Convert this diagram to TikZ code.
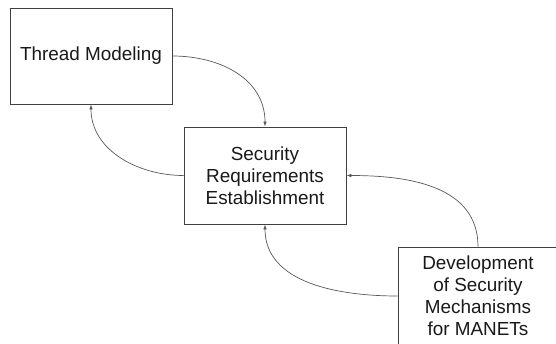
\documentclass[tikz,border=0pt]{standalone}
\usepackage{fontspec}
\setmainfont{Liberation Sans}
\usetikzlibrary{arrows.meta}
\begin{document}
\begin{tikzpicture}[x=1pt,y=-1pt,
  stagebox/.style={draw=black!75,line width=0.8pt,fill=white,align=center,
    font=\fontsize{18.9}{22}\selectfont,text=black!90,inner sep=0pt},
  flow/.style={draw=black!65,line width=0.7pt,-{Latex[length=5pt,width=3.6pt]}}]
  \useasboundingbox (0,0) rectangle (556,343);
  \fill[white] (0,0) rectangle (556,343);
  \node[stagebox,minimum width=162,minimum height=96] (tm) at (91,56) {Thread Modeling};
  \node[stagebox,minimum width=162,minimum height=97] (sr) at (265,175.5)
    {Security\\Requirements\\Establishment};
  \node[stagebox,minimum width=160,minimum height=98] (dev) at (478,296)
    {Development\\of Security\\Mechanisms\\for MANETs};
  \draw[flow] (tm.east) to[out=0,in=90,looseness=1.05] (sr.north);
  \draw[flow] (sr.west) to[out=180,in=-90,looseness=1.0] (tm.south);
  \draw[flow] (dev.north) to[out=90,in=0,looseness=1.05] (sr.east);
  \draw[flow] (dev.west) to[out=180,in=-90,looseness=1.0] (sr.south);
\end{tikzpicture}
\end{document}
